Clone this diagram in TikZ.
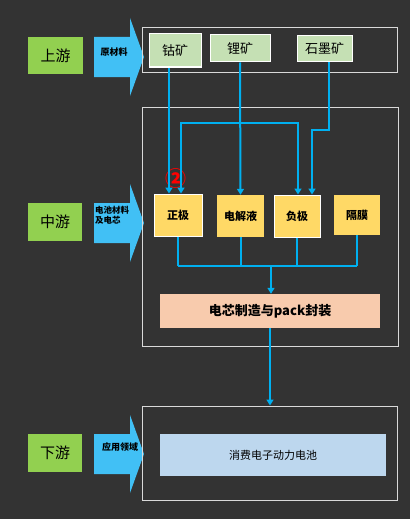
\documentclass[tikz,border=0pt]{standalone}
\usepackage{fontspec}
\setmainfont{Noto Sans CJK SC}
\usepackage{tikz}
\usetikzlibrary{positioning,calc,arrows.meta}

\definecolor{bgdark}{HTML}{333333}
\definecolor{stagegreen}{HTML}{92D050}
\definecolor{arrowblue}{HTML}{41C0F5}
\definecolor{linkblue}{HTML}{00B0F0}
\definecolor{oregreen}{HTML}{C5E0B4}
\definecolor{partyellow}{HTML}{FFD966}
\definecolor{packpeach}{HTML}{F8CBAD}
\definecolor{uselight}{HTML}{BDD7EE}
\definecolor{framegray}{HTML}{D9D9D9}

\begin{document}
\begin{tikzpicture}[x=1pt,y=-1pt,
    stage/.style={fill=stagegreen,inner sep=0pt,font=\fontsize{15}{15}\selectfont},
    frame/.style={draw=framegray,line width=1pt,inner sep=0pt},
    ore/.style={fill=oregreen,draw=white,line width=1pt,inner sep=0pt,font=\fontsize{13}{13}\selectfont},
    part/.style={fill=partyellow,inner sep=0pt,minimum width=47pt,minimum height=42pt,font=\bfseries\fontsize{11}{11}\selectfont},
    link/.style={draw=linkblue,line width=2pt},
    linkto/.style={link,-{Triangle[width=7pt,length=6pt]}}]
    \fill[bgdark] (0,0) rectangle (410,519);
    \useasboundingbox (0,0) rectangle (410,519);

    % stages on the left
    \node[stage,minimum width=55pt,minimum height=37pt] (up) at (55.5,55.5) {上游};
    \node[stage,minimum width=54pt,minimum height=38pt] (mid) at (55,222) {中游};
    \node[stage,minimum width=54pt,minimum height=38pt] (down) at (55,453) {下游};

    % big arrows
    \foreach \yc in {57,223,454} {
        \fill[arrowblue] (94,\yc-20) -- (130,\yc-20) -- (130,\yc-39) -- (144,\yc)
            -- (130,\yc+39) -- (130,\yc+20) -- (94,\yc+20) -- cycle;
    }
    \node[font=\bfseries\fontsize{9}{9}\selectfont] (rawlab) at (114,52) {原材料};
    \node[font=\bfseries\fontsize{8.5}{10}\selectfont,align=left,anchor=north west,inner sep=0pt] (midlab) at (95,206) {电池材料\\及电芯};
    \node[font=\bfseries\fontsize{9}{9}\selectfont] (uselab) at (120,447) {应用领域};

    % frames
    \node[frame,minimum width=255pt,minimum height=44pt] (topfr) at (269.5,50) {};
    \node[frame,minimum width=256pt,minimum height=239pt] (midfr) at (270,226.5) {};
    \node[frame,minimum width=255pt,minimum height=94pt] (downfr) at (269.5,453) {};

    % ores
    \node[ore,minimum width=52pt,minimum height=33pt] (cobalt) at (175,50.5) {钴矿};
    \node[ore,minimum width=60pt,minimum height=27pt] (lithium) at (240,48.5) {锂矿};
    \node[ore,minimum width=55pt,minimum height=26pt] (graphite) at (324.5,49) {石墨矿};

    % battery parts
    \node[part,draw=white,line width=1pt,minimum width=48pt] (cathode) at (178,215) {正极};
    \node[part] (electrolyte) at (240.5,216) {电解液};
    \node[part,draw=white,line width=1pt,minimum width=46pt] (anode) at (297,216) {负极};
    \node[part,minimum width=46pt,minimum height=40pt] (separator) at (357,215) {隔膜};

    \node[fill=packpeach,minimum width=220pt,minimum height=34pt,inner sep=0pt,
        font=\bfseries\fontsize{13}{13}\selectfont] (pack) at (270,311) {电芯制造与pack封装};
    \node[fill=uselight,minimum width=226pt,minimum height=42pt,inner sep=0pt,
        font=\fontsize{11}{11}\selectfont] (consumer) at (273,455) {消费电子动力电池};

    \node[text=red,font=\bfseries\fontsize{21}{21}\selectfont,inner sep=0pt] (mark) at (176,179) {②};

    % ore links
    \draw[linkto] (cobalt.south -| 169,0) -- (cathode.north -| 169,0);
    \draw[linkto] (lithium.south) -- (electrolyte.north);
    \coordinate (lileft) at (181,123);
    \coordinate (liright) at (298,123);
    \draw[link,{Triangle[width=7pt,length=6pt]}-{Triangle[width=7pt,length=6pt]}]
        (cathode.north -| lileft) -- (lileft) -- (liright) -- (anode.north -| liright);
    \coordinate (gbend) at (329,130);
    \draw[linkto] (graphite.south -| gbend) -- (gbend) -- (312,130) -- (anode.north -| 312,0);

    % collect into pack
    \coordinate (bus) at (271,266);
    \foreach \n in {cathode,electrolyte,anode,separator}
        \draw[link] (\n.south) -- (\n.south |- bus);
    \draw[link] (cathode.south |- bus) -- (separator.south |- bus);
    \draw[linkto] (bus) -- (pack.north -| bus);
    \draw[linkto] (pack.south) -- (pack.south |- downfr.north);
\end{tikzpicture}
\end{document}
